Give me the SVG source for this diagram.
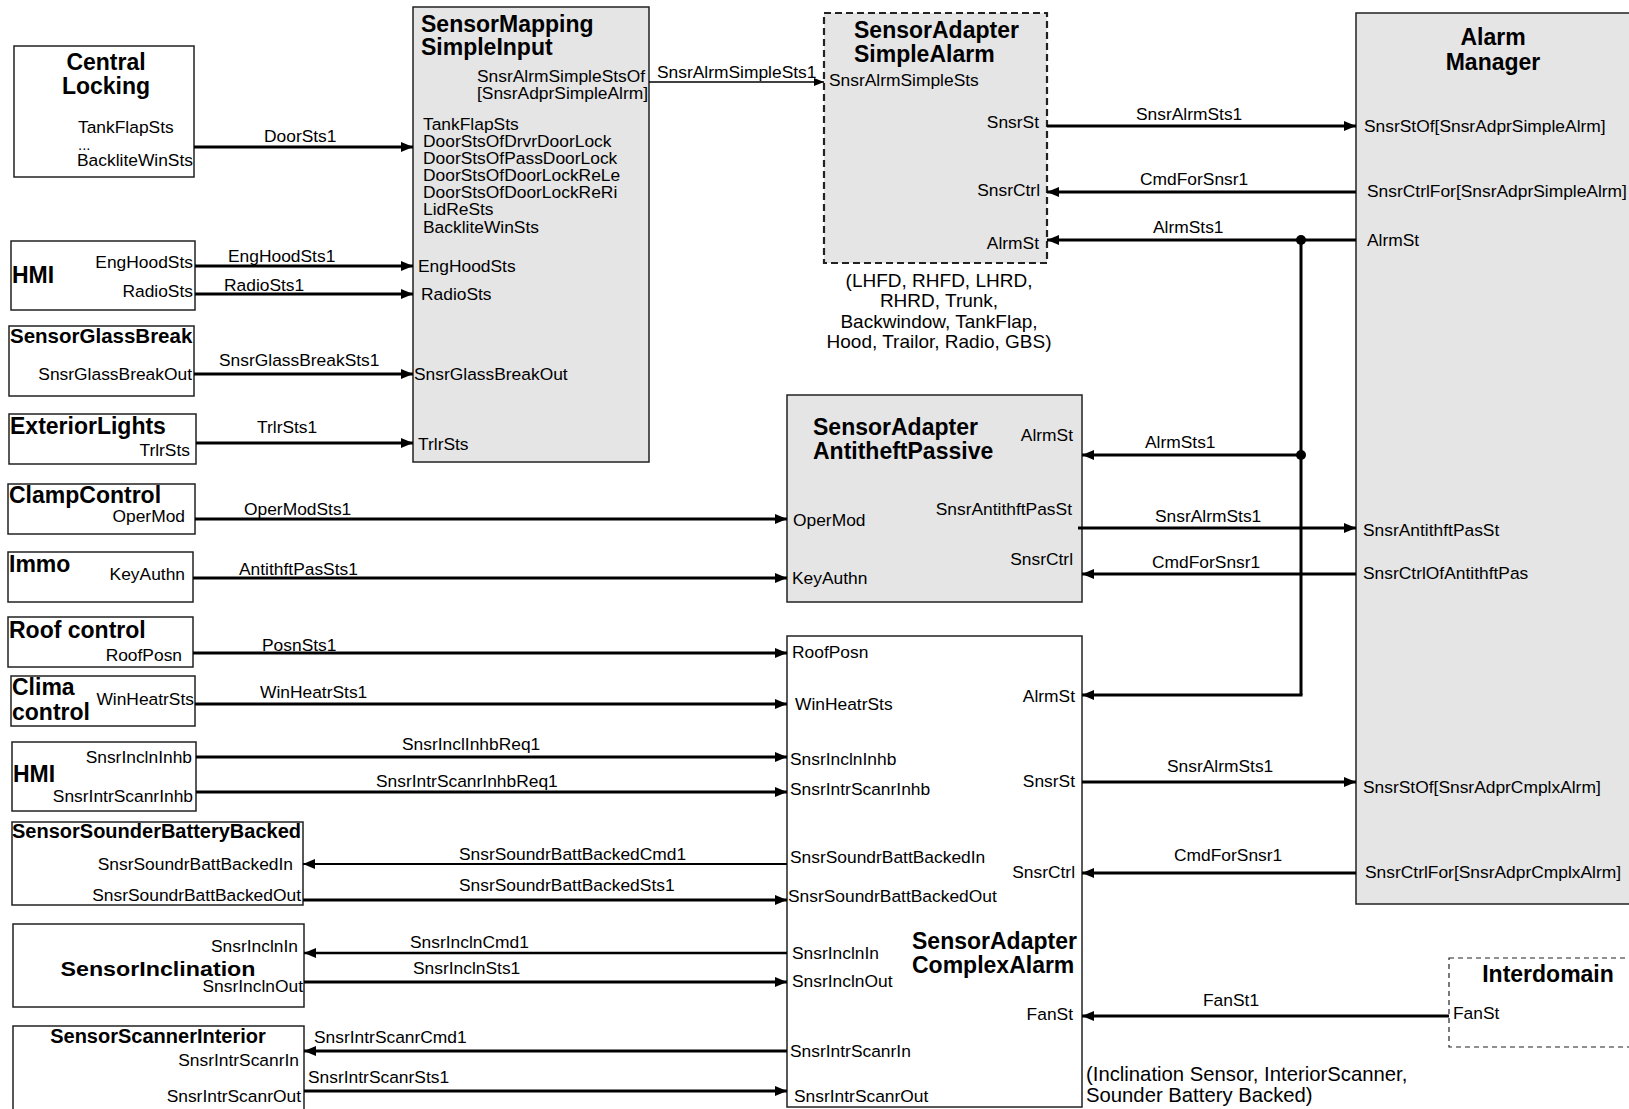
<svg xmlns="http://www.w3.org/2000/svg" width="1629" height="1109" viewBox="0 0 1629 1109">
<defs>
<marker id="arr" markerUnits="userSpaceOnUse" markerWidth="12" markerHeight="10" refX="12" refY="5" orient="auto"><path d="M0,0 L12,5 L0,10 z" fill="#000"/></marker>
<marker id="arrS" markerUnits="userSpaceOnUse" markerWidth="10" markerHeight="8" refX="10" refY="4" orient="auto"><path d="M0,0 L10,4 L0,8 z" fill="#000"/></marker>
</defs>
<style>
text{font-family:"Liberation Sans",Arial,sans-serif;fill:#000}
.t{font-size:23px;font-weight:bold}
.ts{font-size:20.5px;font-weight:bold}
.p{font-size:17.4px}
.c{font-size:17.4px}
.cap{font-size:19px}
.e{text-anchor:end}
.m{text-anchor:middle}
.box{fill:#fff;stroke:#222;stroke-width:1.5}
.gray{fill:#e5e5e5;stroke:#222;stroke-width:1.5}
.dash{stroke-dasharray:7,4;stroke-width:2.2}
.dash2{fill:#fff;stroke:#222;stroke-width:1.2;stroke-dasharray:5,4}
.cn line,.cn path{stroke:#000;stroke-width:3;fill:none}
</style>

<g id="central-locking">
<rect class="box" x="14" y="46" width="180" height="131"/>
<text class="t m" x="106" y="70">Central</text>
<text class="t m" x="106" y="94">Locking</text>
<text class="p" x="78" y="133">TankFlapSts</text>
<text x="78" y="150" style="font-size:15px">...</text>
<text class="p" x="77" y="166">BackliteWinSts</text>
</g>

<g id="hmi-1">
<rect class="box" x="11" y="241" width="184" height="69"/>
<text class="t" x="12" y="283">HMI</text>
<text class="p e" x="193" y="268">EngHoodSts</text>
<text class="p e" x="193" y="297">RadioSts</text>
</g>

<g id="sensor-glass-break">
<rect class="box" x="9" y="326" width="185" height="70"/>
<text class="ts" x="10" y="343">SensorGlassBreak</text>
<text class="p e" x="192" y="380">SnsrGlassBreakOut</text>
</g>

<g id="exterior-lights">
<rect class="box" x="9" y="414" width="187" height="50"/>
<text class="t" x="10" y="434">ExteriorLights</text>
<text class="p e" x="190" y="456">TrlrSts</text>
</g>

<g id="clamp-control">
<rect class="box" x="8" y="484" width="187" height="50"/>
<text class="t" x="9" y="503">ClampControl</text>
<text class="p e" x="185" y="522">OperMod</text>
</g>

<g id="immo">
<rect class="box" x="8" y="552" width="185" height="50"/>
<text class="t" x="9" y="572">Immo</text>
<text class="p e" x="185" y="580">KeyAuthn</text>
</g>

<g id="roof-control">
<rect class="box" x="8" y="617" width="185" height="50"/>
<text class="t" x="9" y="638">Roof control</text>
<text class="p e" x="182" y="661">RoofPosn</text>
</g>

<g id="clima-control">
<rect class="box" x="11" y="676" width="184" height="50"/>
<text class="t" x="12" y="695">Clima</text>
<text class="t" x="12" y="720">control</text>
<text class="p e" x="194" y="705">WinHeatrSts</text>
</g>

<g id="hmi-2">
<rect class="box" x="12" y="742" width="184" height="69"/>
<text class="t" x="13" y="782">HMI</text>
<text class="p e" x="192" y="763">SnsrInclnInhb</text>
<text class="p e" x="193" y="802">SnsrIntrScanrInhb</text>
</g>

<g id="sensor-sounder-battery-backed">
<rect class="box" x="12" y="822" width="291" height="83"/>
<text class="ts" x="12" y="838" style="font-size:20px">SensorSounderBatteryBacked</text>
<text class="p e" x="293" y="870">SnsrSoundrBattBackedIn</text>
<text class="p e" x="301" y="901">SnsrSoundrBattBackedOut</text>
</g>

<g id="sensor-inclination">
<rect class="box" x="13" y="924" width="291" height="83"/>
<text class="m" x="158" y="976" style="font-size:21px;font-weight:bold" textLength="195" lengthAdjust="spacingAndGlyphs">SensorInclination</text>
<text class="p e" x="298" y="952">SnsrInclnIn</text>
<text class="p e" x="303" y="992">SnsrInclnOut</text>
</g>

<g id="sensor-scanner-interior">
<rect class="box" x="13" y="1026" width="291" height="100"/>
<text class="ts m" x="158" y="1043" style="font-size:20px">SensorScannerInterior</text>
<text class="p e" x="299" y="1066">SnsrIntrScanrIn</text>
<text class="p e" x="301" y="1102">SnsrIntrScanrOut</text>
</g>

<g id="sensor-mapping-simple-input">
<rect class="gray" x="413" y="7" width="236" height="455"/>
<text class="t" x="421" y="32">SensorMapping</text>
<text class="t" x="421" y="55">SimpleInput</text>
<text class="p" x="477" y="82">SnsrAlrmSimpleStsOf</text>
<text class="p" x="477" y="99">[SnsrAdprSimpleAlrm]</text>
<text class="p" x="423" y="130">TankFlapSts</text>
<text class="p" x="423" y="147">DoorStsOfDrvrDoorLock</text>
<text class="p" x="423" y="164">DoorStsOfPassDoorLock</text>
<text class="p" x="423" y="181">DoorStsOfDoorLockReLe</text>
<text class="p" x="423" y="198">DoorStsOfDoorLockReRi</text>
<text class="p" x="423" y="215">LidReSts</text>
<text class="p" x="423" y="233">BackliteWinSts</text>
<text class="p" x="418" y="272">EngHoodSts</text>
<text class="p" x="421" y="300">RadioSts</text>
<text class="p" x="414" y="380">SnsrGlassBreakOut</text>
<text class="p" x="418" y="450">TrlrSts</text>
</g>

<g id="sensor-adapter-simple-alarm">
<rect class="gray dash" x="824" y="13" width="223" height="250"/>
<text class="t" x="854" y="38">SensorAdapter</text>
<text class="t" x="854" y="62">SimpleAlarm</text>
<text class="p" x="829" y="86">SnsrAlrmSimpleSts</text>
<text class="p e" x="1039" y="128">SnsrSt</text>
<text class="p e" x="1040" y="196">SnsrCtrl</text>
<text class="p e" x="1039" y="249">AlrmSt</text>
<text class="cap m" x="939" y="287">(LHFD, RHFD, LHRD,</text>
<text class="cap m" x="939" y="307">RHRD, Trunk,</text>
<text class="cap m" x="939" y="328">Backwindow, TankFlap,</text>
<text class="cap m" x="939" y="348">Hood, Trailor, Radio, GBS)</text>
</g>

<g id="sensor-adapter-antitheft-passive">
<rect class="gray" x="787" y="395" width="295" height="207"/>
<text class="t" x="813" y="435">SensorAdapter</text>
<text class="t" x="813" y="459">AntitheftPassive</text>
<text class="p e" x="1073" y="441">AlrmSt</text>
<text class="p e" x="1072" y="515">SnsrAntithftPasSt</text>
<text class="p e" x="1073" y="565">SnsrCtrl</text>
<text class="p" x="793" y="526">OperMod</text>
<text class="p" x="792" y="584">KeyAuthn</text>
</g>

<g id="sensor-adapter-complex-alarm">
<rect class="box" x="787" y="636" width="295" height="471"/>
<text class="p" x="792" y="658">RoofPosn</text>
<text class="p" x="795" y="710">WinHeatrSts</text>
<text class="p" x="790" y="765">SnsrInclnInhb</text>
<text class="p" x="790" y="795">SnsrIntrScanrInhb</text>
<text class="p" x="790" y="863">SnsrSoundrBattBackedIn</text>
<text class="p" x="788" y="902">SnsrSoundrBattBackedOut</text>
<text class="p" x="792" y="959">SnsrInclnIn</text>
<text class="p" x="792" y="987">SnsrInclnOut</text>
<text class="p" x="790" y="1057">SnsrIntrScanrIn</text>
<text class="p" x="794" y="1102">SnsrIntrScanrOut</text>
<text class="p e" x="1075" y="702">AlrmSt</text>
<text class="p e" x="1075" y="787">SnsrSt</text>
<text class="p e" x="1075" y="878">SnsrCtrl</text>
<text class="p e" x="1073" y="1020">FanSt</text>
<text class="t" x="912" y="949">SensorAdapter</text>
<text class="t" x="912" y="973">ComplexAlarm</text>
<text class="cap" x="1086" y="1081" style="font-size:20.3px">(Inclination Sensor, InteriorScanner,</text>
<text class="cap" x="1086" y="1102" style="font-size:20.3px">Sounder Battery Backed)</text>
</g>

<g id="alarm-manager">
<rect class="gray" x="1356" y="13" width="300" height="891"/>
<text class="t m" x="1493" y="45">Alarm</text>
<text class="t m" x="1493" y="70">Manager</text>
<text class="p" x="1364" y="132">SnsrStOf[SnsrAdprSimpleAlrm]</text>
<text class="p" x="1367" y="197">SnsrCtrlFor[SnsrAdprSimpleAlrm]</text>
<text class="p" x="1367" y="246">AlrmSt</text>
<text class="p" x="1363" y="536">SnsrAntithftPasSt</text>
<text class="p" x="1363" y="579">SnsrCtrlOfAntithftPas</text>
<text class="p" x="1363" y="793">SnsrStOf[SnsrAdprCmplxAlrm]</text>
<text class="p" x="1365" y="878">SnsrCtrlFor[SnsrAdprCmplxAlrm]</text>
</g>

<g id="interdomain">
<rect class="dash2" x="1449" y="958" width="200" height="89"/>
<text class="t m" x="1548" y="982">Interdomain</text>
<text class="p" x="1453" y="1019">FanSt</text>
</g>

<g id="connectors" class="cn">
<line x1="194" y1="147" x2="413" y2="147" marker-end="url(#arr)"/>
<line x1="195" y1="266" x2="413" y2="266" marker-end="url(#arr)"/>
<line x1="195" y1="294" x2="413" y2="294" marker-end="url(#arr)"/>
<line x1="194" y1="374" x2="413" y2="374" marker-end="url(#arr)"/>
<line x1="196" y1="443" x2="413" y2="443" marker-end="url(#arr)"/>
<line x1="195" y1="519" x2="787" y2="519" marker-end="url(#arr)"/>
<line x1="193" y1="578" x2="787" y2="578" marker-end="url(#arr)"/>
<line x1="193" y1="653" x2="787" y2="653" marker-end="url(#arr)"/>
<line x1="195" y1="704" x2="787" y2="704" marker-end="url(#arr)"/>
<line x1="196" y1="757" x2="787" y2="757" marker-end="url(#arr)"/>
<line x1="196" y1="792" x2="787" y2="792" marker-end="url(#arr)"/>
<line x1="787" y1="864" x2="303" y2="864" marker-end="url(#arr)" style="stroke-width:2"/>
<line x1="303" y1="900" x2="787" y2="900" marker-end="url(#arr)"/>
<line x1="787" y1="953" x2="304" y2="953" marker-end="url(#arr)" style="stroke-width:2.5"/>
<line x1="304" y1="982" x2="787" y2="982" marker-end="url(#arr)"/>
<line x1="787" y1="1051" x2="304" y2="1051" marker-end="url(#arr)"/>
<line x1="304" y1="1091" x2="787" y2="1091" marker-end="url(#arr)"/>
<line x1="649" y1="82" x2="824" y2="82" marker-end="url(#arrS)" style="stroke-width:1.5"/>
<line x1="1047" y1="126" x2="1356" y2="126" marker-end="url(#arr)"/>
<line x1="1356" y1="192" x2="1047" y2="192" marker-end="url(#arr)"/>
<line x1="1356" y1="240" x2="1047" y2="240" marker-end="url(#arr)"/>
<path d="M1301,240 V695"/>
<line x1="1301" y1="455" x2="1082" y2="455" marker-end="url(#arr)"/>
<line x1="1302.5" y1="695" x2="1082" y2="695" marker-end="url(#arr)"/>
<line x1="1078" y1="528" x2="1356" y2="528" marker-end="url(#arr)"/>
<line x1="1356" y1="574" x2="1082" y2="574" marker-end="url(#arr)"/>
<line x1="1082" y1="782" x2="1356" y2="782" marker-end="url(#arr)"/>
<line x1="1356" y1="873" x2="1082" y2="873" marker-end="url(#arr)"/>
<line x1="1449" y1="1016" x2="1082" y2="1016" marker-end="url(#arr)"/>
<circle cx="1301" cy="240" r="5" fill="#000"/>
<circle cx="1301" cy="455" r="5" fill="#000"/>
<text class="c" x="264" y="142">DoorSts1</text>
<text class="c" x="228" y="262">EngHoodSts1</text>
<text class="c" x="224" y="291">RadioSts1</text>
<text class="c" x="219" y="366">SnsrGlassBreakSts1</text>
<text class="c" x="257" y="433">TrlrSts1</text>
<text class="c" x="244" y="515">OperModSts1</text>
<text class="c" x="239" y="575">AntithftPasSts1</text>
<text class="c" x="262" y="651">PosnSts1</text>
<text class="c" x="260" y="698">WinHeatrSts1</text>
<text class="c" x="402" y="750">SnsrInclInhbReq1</text>
<text class="c" x="376" y="787">SnsrIntrScanrInhbReq1</text>
<text class="c" x="459" y="860">SnsrSoundrBattBackedCmd1</text>
<text class="c" x="459" y="891">SnsrSoundrBattBackedSts1</text>
<text class="c" x="410" y="948">SnsrInclnCmd1</text>
<text class="c" x="413" y="974">SnsrInclnSts1</text>
<text class="c" x="314" y="1043">SnsrIntrScanrCmd1</text>
<text class="c" x="308" y="1083">SnsrIntrScanrSts1</text>
<text class="c" x="657" y="78">SnsrAlrmSimpleSts1</text>
<text class="c" x="1136" y="120">SnsrAlrmSts1</text>
<text class="c" x="1140" y="185">CmdForSnsr1</text>
<text class="c" x="1153" y="233">AlrmSts1</text>
<text class="c" x="1145" y="448">AlrmSts1</text>
<text class="c" x="1155" y="522">SnsrAlrmSts1</text>
<text class="c" x="1152" y="568">CmdForSnsr1</text>
<text class="c" x="1167" y="772">SnsrAlrmSts1</text>
<text class="c" x="1174" y="861">CmdForSnsr1</text>
<text class="c" x="1203" y="1006">FanSt1</text>
</g>
</svg>
